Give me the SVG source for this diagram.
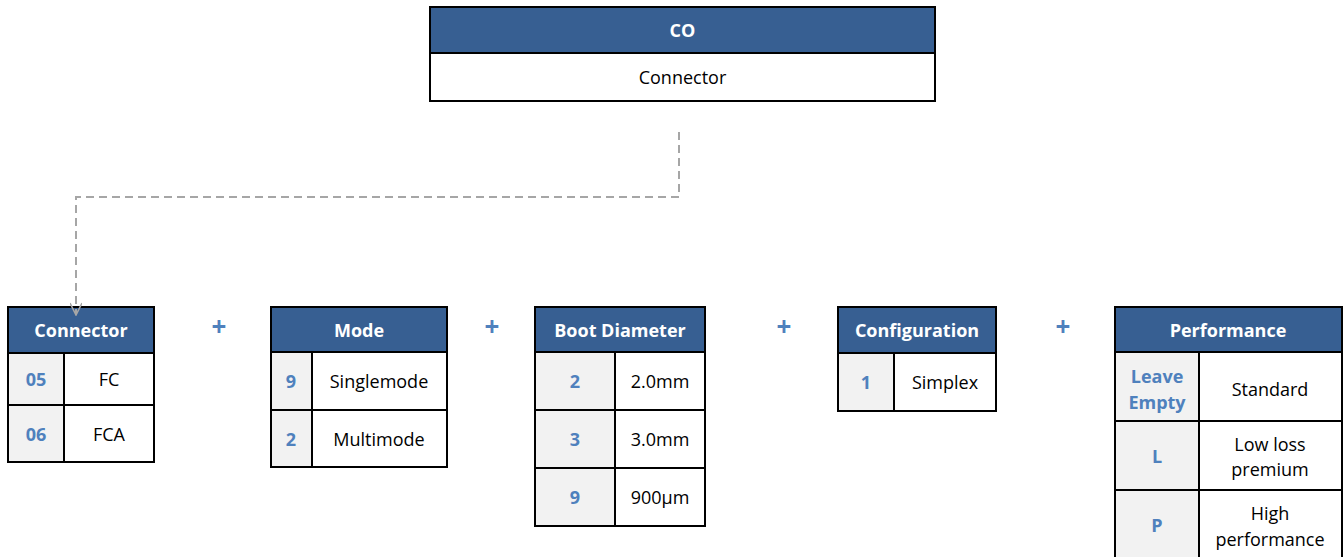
<svg xmlns="http://www.w3.org/2000/svg" width="1344" height="557" viewBox="0 0 1344 557">
<style>
text{font-family:"Open Sans","Liberation Sans",sans-serif;font-size:18px;text-anchor:middle;dominant-baseline:central}
.hd{fill:#375F92;stroke:#000;stroke-width:2}
.hdt{fill:#fff;font-weight:bold}
.key{fill:#F2F2F2}
.val{fill:#fff}
.kt{fill:#4F81BD;font-weight:bold}
.vt{fill:#000}
.ln{stroke:#000;stroke-width:2;fill:none}
.plus{fill:#4F81BD;font-size:26px;font-weight:bold}
.conn{stroke:#A6A6A6;stroke-width:2;fill:none;stroke-dasharray:8 5}
</style>
<defs>
<marker id="arr" viewBox="0 0 14 12" refX="13" refY="6" markerWidth="14" markerHeight="12" markerUnits="userSpaceOnUse" orient="auto">
<polyline points="1,0 13,6 1,12" fill="none" stroke="#A6A6A6" stroke-width="1.6"/>
</marker>
</defs>

<g id="co">
<rect x="430" y="7" width="505" height="94" class="val"/>
<rect x="430" y="7" width="505" height="46" class="hd"/>
<rect x="430" y="7" width="505" height="94" class="ln"/>
<text x="682.5" y="30" class="hdt">CO</text>
<text x="682.5" y="77" class="vt">Connector</text>
</g>

<g id="connector-table">
<rect x="8" y="353" width="56" height="109" class="key"/>
<rect x="64" y="353" width="90" height="109" class="val"/>
<rect x="8" y="307" width="146" height="46" class="hd"/>
<rect x="8" y="307" width="146" height="155" class="ln"/>
<line x1="64" y1="353" x2="64" y2="462" class="ln"/>
<line x1="8" y1="405" x2="154" y2="405" class="ln"/>
<text x="81" y="330" class="hdt">Connector</text>
<text x="36" y="379" class="kt">05</text>
<text x="109" y="379" class="vt">FC</text>
<text x="36" y="434" class="kt">06</text>
<text x="109" y="434" class="vt">FCA</text>
</g>

<text x="219" y="326" class="plus">+</text>

<g id="mode-table">
<rect x="271" y="352" width="41" height="115" class="key"/>
<rect x="312" y="352" width="135" height="115" class="val"/>
<rect x="271" y="307" width="176" height="45" class="hd"/>
<rect x="271" y="307" width="176" height="160" class="ln"/>
<line x1="312" y1="352" x2="312" y2="467" class="ln"/>
<line x1="271" y1="410" x2="447" y2="410" class="ln"/>
<text x="359" y="330" class="hdt">Mode</text>
<text x="291" y="381" class="kt">9</text>
<text x="379" y="381" class="vt">Singlemode</text>
<text x="291" y="439" class="kt">2</text>
<text x="379" y="439" class="vt">Multimode</text>
</g>

<text x="492" y="326" class="plus">+</text>

<g id="boot-table">
<rect x="535" y="352" width="80" height="174" class="key"/>
<rect x="615" y="352" width="90" height="174" class="val"/>
<rect x="535" y="307" width="170" height="45" class="hd"/>
<rect x="535" y="307" width="170" height="219" class="ln"/>
<line x1="615" y1="352" x2="615" y2="526" class="ln"/>
<line x1="535" y1="410" x2="705" y2="410" class="ln"/>
<line x1="535" y1="468" x2="705" y2="468" class="ln"/>
<text x="620" y="330" class="hdt">Boot Diameter</text>
<text x="575" y="381" class="kt">2</text>
<text x="660" y="381" class="vt">2.0mm</text>
<text x="575" y="439" class="kt">3</text>
<text x="660" y="439" class="vt">3.0mm</text>
<text x="575" y="497" class="kt">9</text>
<text x="660" y="497" class="vt">900µm</text>
</g>

<text x="784" y="326" class="plus">+</text>

<g id="config-table">
<rect x="838" y="353" width="56" height="58" class="key"/>
<rect x="894" y="353" width="102" height="58" class="val"/>
<rect x="838" y="307" width="158" height="46" class="hd"/>
<rect x="838" y="307" width="158" height="104" class="ln"/>
<line x1="894" y1="353" x2="894" y2="411" class="ln"/>
<text x="917" y="330" class="hdt">Configuration</text>
<text x="866" y="382" class="kt">1</text>
<text x="945" y="382" class="vt">Simplex</text>
</g>

<text x="1063" y="326" class="plus">+</text>

<g id="performance-table">
<rect x="1115" y="352" width="84" height="210" class="key"/>
<rect x="1199" y="352" width="143" height="210" class="val"/>
<rect x="1115" y="307" width="227" height="45" class="hd"/>
<rect x="1115" y="307" width="227" height="255" class="ln"/>
<line x1="1199" y1="352" x2="1199" y2="562" class="ln"/>
<line x1="1115" y1="421" x2="1342" y2="421" class="ln"/>
<line x1="1115" y1="490" x2="1342" y2="490" class="ln"/>
<text x="1228" y="330" class="hdt">Performance</text>
<text x="1157" y="376" class="kt">Leave</text>
<text x="1157" y="402" class="kt">Empty</text>
<text x="1270" y="389" class="vt">Standard</text>
<text x="1157" y="456" class="kt">L</text>
<text x="1270" y="444" class="vt">Low loss</text>
<text x="1270" y="469" class="vt">premium</text>
<text x="1157" y="525" class="kt">P</text>
<text x="1270" y="513" class="vt">High</text>
<text x="1270" y="539" class="vt">performance</text>
</g>

<g id="connectors">
<polyline points="679,132 679,197 76,197 76,315" class="conn" marker-end="url(#arr)"/>
</g>
</svg>
